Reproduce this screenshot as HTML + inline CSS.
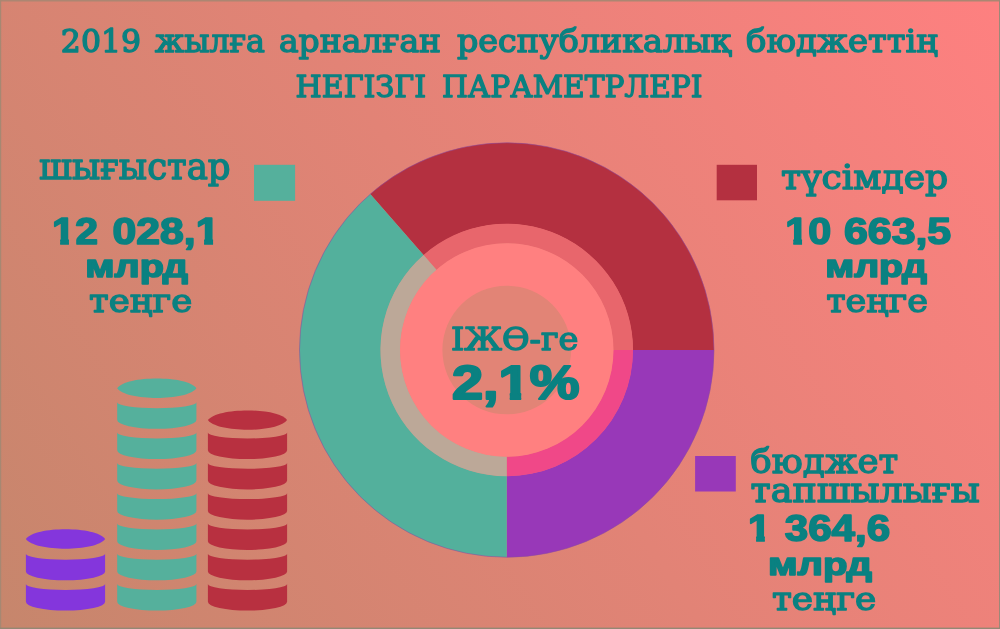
<!DOCTYPE html>
<html lang="kk"><head><meta charset="utf-8"><title>2019 жылға арналған республикалық бюджеттің негізгі параметрлері</title>
<style>
html,body{margin:0;padding:0}
body{width:1000px;height:629px;overflow:hidden;background:#e88276}
svg{display:block}
text{fill:#0a8181}
.s{font-family:"DejaVu Serif","Liberation Serif",serif;stroke:#0a8181;stroke-width:1.4px;stroke-linejoin:round}
.b{font-family:"Liberation Sans","DejaVu Sans",sans-serif;font-weight:bold;stroke:#0a8181;stroke-width:1.6px;stroke-linejoin:round}
.b2{font-family:"Liberation Sans","DejaVu Sans",sans-serif;font-weight:bold;stroke:#0a8181;stroke-width:2.2px;stroke-linejoin:round}
</style></head><body>
<svg width="1000" height="629" viewBox="0 0 1000 629">
<defs><linearGradient id="bg" gradientUnits="userSpaceOnUse" x1="4.7" y1="636.1" x2="995.3" y2="-7.1"><stop offset="0" stop-color="#c6866c"/><stop offset="1" stop-color="#fe8080"/></linearGradient></defs>
<rect x="0" y="0" width="1000" height="629" fill="url(#bg)"/>
<g>
<path d="M370.24,194.06 A207.25,207.25 0 0 1 714.00,350.00 L632.75,350.00 A126.0,126.0 0 0 0 423.76,255.20 Z" fill="#b43040" />
<path d="M714.00,350.00 A207.25,207.25 0 0 1 506.75,557.25 L506.75,476.00 A126.0,126.0 0 0 0 632.75,350.00 Z" fill="#9838b8" />
<path d="M506.75,557.25 A207.25,207.25 0 0 1 370.24,194.06 L423.76,255.20 A126.0,126.0 0 0 0 506.75,476.00 Z" fill="#53b09c" />
<path d="M423.56,254.97 A126.3,126.3 0 0 1 633.05,350.00 L613.20,350.00 A106.45,106.45 0 0 0 436.63,269.91 Z" fill="#e8666c" />
<path d="M633.05,350.00 A126.3,126.3 0 0 1 506.75,476.30 L506.75,456.45 A106.45,106.45 0 0 0 613.20,350.00 Z" fill="#f04888" />
<path d="M506.75,476.30 A126.3,126.3 0 0 1 423.56,254.97 L436.63,269.91 A106.45,106.45 0 0 0 506.75,456.45 Z" fill="#bca898" />
<circle cx="506.75" cy="350.0" r="106.75" fill="#ff8080"/>
<circle cx="506.75" cy="350.0" r="64.35" fill="#e28476"/>
<circle cx="506.75" cy="350.0" r="207.25" fill="none" stroke="#8a4aa0" stroke-opacity="0.55" stroke-width="1"/>
</g>
<rect x="254" y="164.8" width="41.1" height="36" fill="#55b09c"/>
<rect x="716.7" y="164.8" width="40.3" height="35.5" fill="#b43040"/>
<rect x="695.1" y="456" width="40.7" height="35.5" fill="#9838b8"/>
<g>
<path d="M25.9,539.00 C34.9,526.07 96.1,526.07 105.1,539.00 C96.1,551.93 34.9,551.93 25.9,539.00 Z" fill="#8436dc"/>
<path d="M25.9,553.80 A39.6,5.9 0 0 0 105.1,553.80 L105.1,571.50 A39.6,8.8 0 0 1 25.9,571.50 Z" fill="#8436dc"/>
<path d="M25.9,584.10 A39.6,5.9 0 0 0 105.1,584.10 L105.1,601.80 A39.6,8.8 0 0 1 25.9,601.80 Z" fill="#8436dc"/>
<path d="M117.2,388.20 C126.2,375.27 187.4,375.27 196.4,388.20 C187.4,401.13 126.2,401.13 117.2,388.20 Z" fill="#55b09c"/>
<path d="M117.2,402.30 A39.6,5.9 0 0 0 196.4,402.30 L196.4,420.00 A39.6,8.8 0 0 1 117.2,420.00 Z" fill="#55b09c"/>
<path d="M117.2,432.60 A39.6,5.9 0 0 0 196.4,432.60 L196.4,450.30 A39.6,8.8 0 0 1 117.2,450.30 Z" fill="#55b09c"/>
<path d="M117.2,462.90 A39.6,5.9 0 0 0 196.4,462.90 L196.4,480.60 A39.6,8.8 0 0 1 117.2,480.60 Z" fill="#55b09c"/>
<path d="M117.2,493.20 A39.6,5.9 0 0 0 196.4,493.20 L196.4,510.90 A39.6,8.8 0 0 1 117.2,510.90 Z" fill="#55b09c"/>
<path d="M117.2,523.50 A39.6,5.9 0 0 0 196.4,523.50 L196.4,541.20 A39.6,8.8 0 0 1 117.2,541.20 Z" fill="#55b09c"/>
<path d="M117.2,553.80 A39.6,5.9 0 0 0 196.4,553.80 L196.4,571.50 A39.6,8.8 0 0 1 117.2,571.50 Z" fill="#55b09c"/>
<path d="M117.2,584.10 A39.6,5.9 0 0 0 196.4,584.10 L196.4,601.80 A39.6,8.8 0 0 1 117.2,601.80 Z" fill="#55b09c"/>
<path d="M207.9,420.10 C216.9,407.17 278.1,407.17 287.1,420.10 C278.1,433.03 216.9,433.03 207.9,420.10 Z" fill="#b83040"/>
<path d="M207.9,432.60 A39.6,5.9 0 0 0 287.1,432.60 L287.1,450.30 A39.6,8.8 0 0 1 207.9,450.30 Z" fill="#b83040"/>
<path d="M207.9,462.90 A39.6,5.9 0 0 0 287.1,462.90 L287.1,480.60 A39.6,8.8 0 0 1 207.9,480.60 Z" fill="#b83040"/>
<path d="M207.9,493.20 A39.6,5.9 0 0 0 287.1,493.20 L287.1,510.90 A39.6,8.8 0 0 1 207.9,510.90 Z" fill="#b83040"/>
<path d="M207.9,523.50 A39.6,5.9 0 0 0 287.1,523.50 L287.1,541.20 A39.6,8.8 0 0 1 207.9,541.20 Z" fill="#b83040"/>
<path d="M207.9,553.80 A39.6,5.9 0 0 0 287.1,553.80 L287.1,571.50 A39.6,8.8 0 0 1 207.9,571.50 Z" fill="#b83040"/>
<path d="M207.9,584.10 A39.6,5.9 0 0 0 287.1,584.10 L287.1,601.80 A39.6,8.8 0 0 1 207.9,601.80 Z" fill="#b83040"/>
</g>
<g><rect x="0" y="0" width="1000" height="1.5" fill="#ac8672"/><rect x="0" y="0" width="1.2" height="629" fill="#a68872"/><rect x="999" y="0" width="1" height="629" fill="#9c8878"/><rect x="0" y="627.6" width="1000" height="1.4" fill="#948874"/></g>
<text class="s" y="52" font-size="31.2" stroke-width="0.6"><tspan x="60.87" textLength="80.26" lengthAdjust="spacingAndGlyphs">2019</tspan> <tspan x="155.00" textLength="110.00" lengthAdjust="spacingAndGlyphs">жылға</tspan> <tspan x="278.97" textLength="162.07" lengthAdjust="spacingAndGlyphs">арналған</tspan> <tspan x="456.99" textLength="274.01" lengthAdjust="spacingAndGlyphs">республикалық</tspan> <tspan x="745.99" textLength="192.03" lengthAdjust="spacingAndGlyphs">бюджеттің</tspan></text>
<text class="s" y="97" font-size="30.2"><tspan x="295.57" textLength="130.45" lengthAdjust="spacingAndGlyphs">НЕГІЗГІ</tspan> <tspan x="441.99" textLength="260.51" lengthAdjust="spacingAndGlyphs">ПАРАМЕТРЛЕРІ</tspan></text>
<text class="s" x="38.99" y="179" font-size="34.5" textLength="191.64" lengthAdjust="spacingAndGlyphs">шығыстар</text>
<clipPath id="kl2"><path clip-rule="evenodd" d="M-5,-5H1005V635H-5ZM52.27,238.19H60.16V246.40H52.27ZM68.94,238.19H76.31V246.40H68.94ZM195.97,238.19H204.10V246.40H195.97ZM213.06,238.19H220.64V246.40H213.06Z"/></clipPath>
<text class="b" y="244" font-size="36.4" clip-path="url(#kl2)"><tspan x="52.06" textLength="46.00" lengthAdjust="spacingAndGlyphs">12</tspan> <tspan x="112.53" textLength="106.91" lengthAdjust="spacingAndGlyphs">028,1</tspan></text>
<text class="b" x="85.16" y="277" font-size="32" textLength="102.84" lengthAdjust="spacingAndGlyphs">млрд</text>
<text class="s" x="88.98" y="312" font-size="32" textLength="103.25" lengthAdjust="spacingAndGlyphs">теңге</text>
<text class="s" x="780.99" y="189" font-size="33.2" textLength="167.23" lengthAdjust="spacingAndGlyphs">түсімдер</text>
<clipPath id="kr2"><path clip-rule="evenodd" d="M-5,-5H1005V635H-5ZM785.40,238.19H793.28V246.40H785.40ZM802.04,238.19H809.40V246.40H802.04Z"/></clipPath>
<text class="b" y="244" font-size="36.4" clip-path="url(#kr2)"><tspan x="785.20" textLength="45.89" lengthAdjust="spacingAndGlyphs">10</tspan> <tspan x="843.98" textLength="107.25" lengthAdjust="spacingAndGlyphs">663,5</tspan></text>
<text class="b" x="825.16" y="277" font-size="32" textLength="101.84" lengthAdjust="spacingAndGlyphs">млрд</text>
<text class="s" x="826.17" y="312" font-size="32" textLength="101.84" lengthAdjust="spacingAndGlyphs">теңге</text>
<text class="s" x="450.98" y="350" font-size="30.9" textLength="127.45" lengthAdjust="spacingAndGlyphs" stroke-width="1.1">ІЖӨ-ге</text>
<clipPath id="kc2"><path clip-rule="evenodd" d="M-5,-5H1005V635H-5ZM499.43,391.67H509.80V401.70H499.43ZM521.18,391.67H530.84V401.70H521.18Z"/></clipPath>
<text class="b2" x="451.98" y="399" font-size="48.3" textLength="127.44" lengthAdjust="spacingAndGlyphs" clip-path="url(#kc2)">2,1%</text>
<text class="s" x="750.23" y="473" font-size="34.4" textLength="148.00" lengthAdjust="spacingAndGlyphs">бюджет</text>
<text class="s" x="750.49" y="502" font-size="32.8" textLength="229.32" lengthAdjust="spacingAndGlyphs">тапшылығы</text>
<clipPath id="kd3"><path clip-rule="evenodd" d="M-5,-5H1005V635H-5ZM748.29,535.19H756.12V543.40H748.29ZM764.83,535.19H772.13V543.40H764.83Z"/></clipPath>
<text class="b" y="541" font-size="36.4" clip-path="url(#kd3)"><tspan x="748.11" textLength="22.76" lengthAdjust="spacingAndGlyphs">1</tspan> <tspan x="784.78" textLength="105.43" lengthAdjust="spacingAndGlyphs">364,6</tspan></text>
<text class="b" x="767.96" y="575" font-size="32" textLength="104.04" lengthAdjust="spacingAndGlyphs">млрд</text>
<text class="s" x="771.98" y="610" font-size="32" textLength="104.25" lengthAdjust="spacingAndGlyphs">теңге</text>
</svg>
</body></html>
